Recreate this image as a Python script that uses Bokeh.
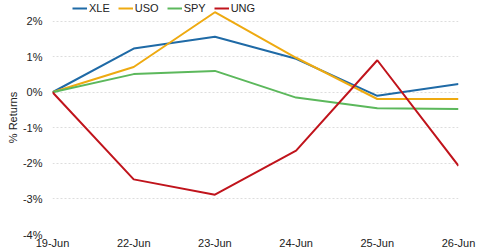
from bokeh.plotting import figure
from bokeh.models import Legend, LegendItem, Range1d, FixedTicker
from bokeh.embed import file_html
from bokeh.resources import INLINE

dates = ["19-Jun", "22-Jun", "23-Jun", "24-Jun", "25-Jun", "26-Jun"]
xle = [0.0, 1.23, 1.56, 0.94, -0.10, 0.23]
uso = [0.0, 0.71, 2.25, 0.97, -0.19, -0.19]
spy = [0.0, 0.51, 0.60, -0.15, -0.45, -0.47]
ung = [0.0, -2.45, -2.88, -1.64, 0.90, -2.07]
yticks = [-4, -3, -2, -1, 0, 1, 2]

series = [("XLE", xle, "#1f6aa6"), ("USO", uso, "#eeaa11"),
          ("SPY", spy, "#5cb85c"), ("UNG", ung, "#c0141c")]

FONT = "Liberation Sans"
xs = list(range(len(dates)))

p = figure(width=480, height=251, output_backend="svg", toolbar_location=None,
           x_range=Range1d(0, len(dates) - 1), y_range=Range1d(-4.0, 2.58),
           min_border_left=52, min_border_right=22, min_border_top=0, min_border_bottom=0)
p.outline_line_color = None
p.background_fill_color = "white"
p.border_fill_color = "white"

items = []
for name, vals, col in series:
    r = p.line(xs, vals, line_color=col, line_width=2)
    items.append(LegendItem(label=name, renderers=[r]))

p.xgrid.grid_line_color = None
p.ygrid.grid_line_color = "#dddddd"
p.ygrid.grid_line_dash = "2 2"
p.ygrid.grid_line_width = 1

p.yaxis.ticker = FixedTicker(ticks=yticks)
p.yaxis.major_label_overrides = {t: f"{t}%" for t in yticks}
p.xaxis.ticker = FixedTicker(ticks=xs)
p.xaxis.major_label_overrides = {i: d for i, d in enumerate(dates)}

for ax in (p.xaxis[0], p.yaxis[0]):
    ax.axis_line_color = None
    ax.major_tick_line_color = None
    ax.minor_tick_line_color = None
    ax.major_tick_out = 0
    ax.major_tick_in = 0
    ax.minor_tick_out = 0
    ax.minor_tick_in = 0
    ax.major_label_text_font = FONT
    ax.major_label_text_font_size = "11px"
    ax.major_label_text_color = "#222222"

p.xaxis.major_label_standoff = 2
p.yaxis.major_label_standoff = 10
p.yaxis.axis_label = "% Returns"
p.yaxis.axis_label_text_font = FONT
p.yaxis.axis_label_text_font_size = "11px"
p.yaxis.axis_label_text_font_style = "normal"
p.yaxis.axis_label_text_color = "#222222"
p.yaxis.axis_label_standoff = 1

legend = Legend(items=items, orientation="horizontal", location=(20, 220),
                glyph_width=15, glyph_height=10, label_standoff=2, spacing=8,
                padding=0, margin=0, border_line_color=None, background_fill_alpha=0,
                label_text_font=FONT, label_text_font_size="11px",
                label_text_color="#222222", label_height=10)
p.add_layout(legend)

open("out.html", "w").write(file_html(p, INLINE))
